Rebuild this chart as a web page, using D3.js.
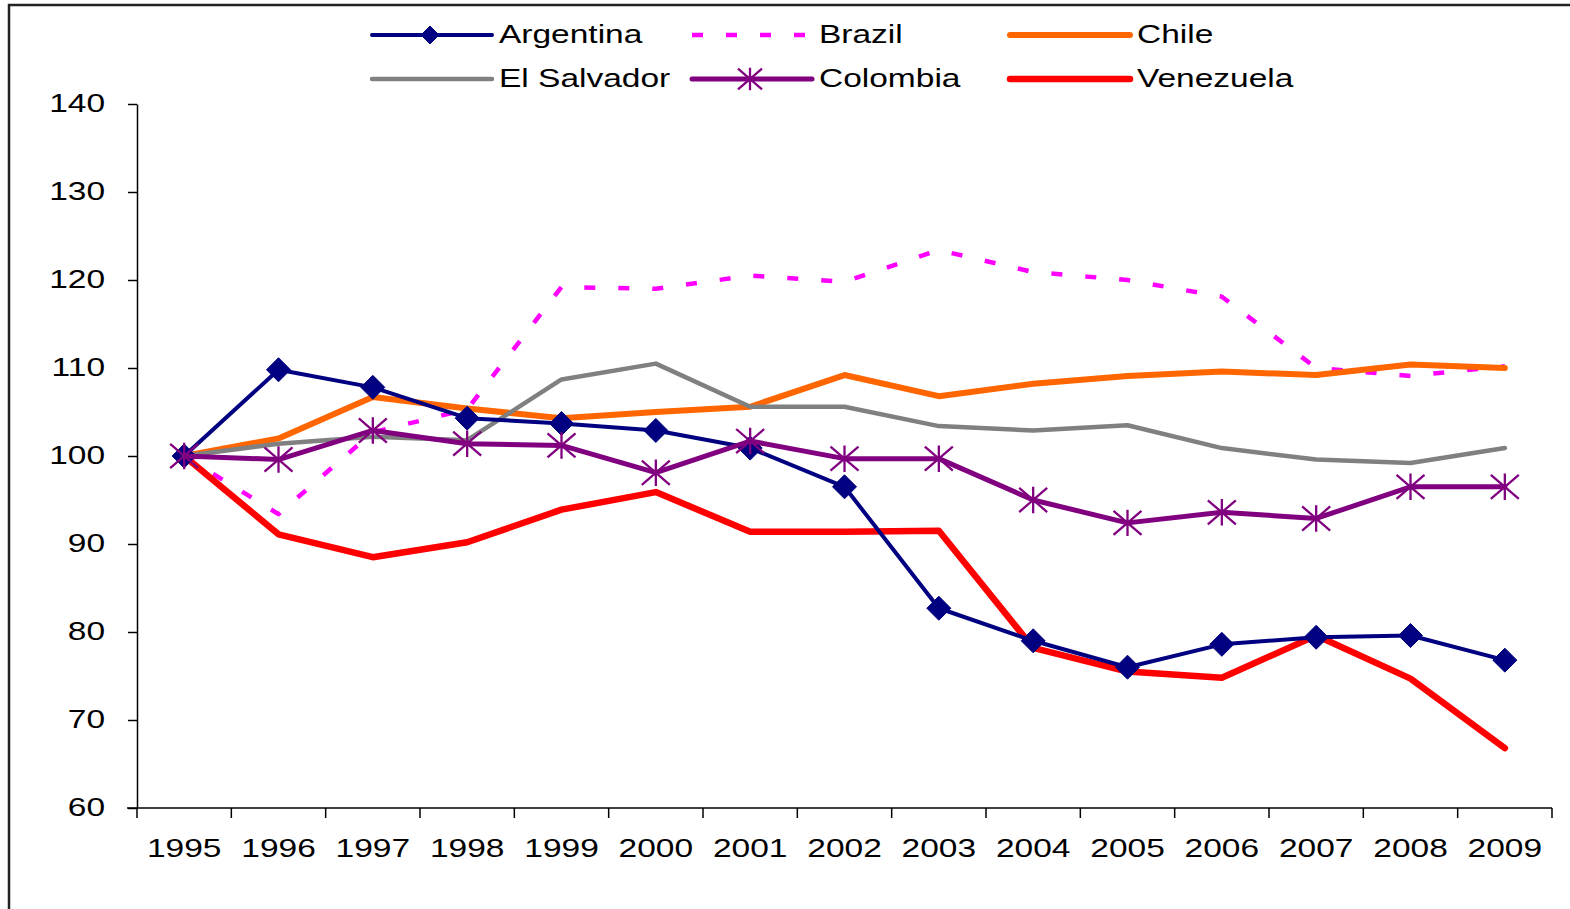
<!DOCTYPE html>
<html>
<head>
<meta charset="utf-8">
<script src="https://cdn.jsdelivr.net/npm/d3@7"></script>
<style>
html,body{margin:0;padding:0;background:#fff;}
svg{display:block;}
text{font-family:"Liberation Sans",Arial,sans-serif;fill:#000;}
</style>
</head>
<body>
<svg id="chart" width="1570" height="909"></svg>
<script>
const years = ["1995","1996","1997","1998","1999","2000","2001","2002","2003","2004","2005","2006","2007","2008","2009"];
const yTicks = [60,70,80,90,100,110,120,130,140];

const argentina  = [100,109.8,107.8,104.3,103.7,102.9,100.9,96.5,82.7,79.0,76.0,78.6,79.4,79.6,76.8];
const brazil     = [100,93.4,102.7,105.3,119.2,119.0,120.5,119.8,123.4,120.9,120.0,118.1,110.0,109.1,110.2];
const chile      = [100,102.0,106.7,105.4,104.3,105.0,105.6,109.2,106.8,108.2,109.1,109.6,109.2,110.4,110.0];
const elSalvador = [100,101.4,102.2,101.8,108.7,110.5,105.6,105.6,103.4,102.9,103.5,100.9,99.6,99.2,100.9];
const colombia   = [100,99.6,102.9,101.4,101.2,98.1,101.7,99.7,99.7,95.0,92.4,93.6,92.9,96.5,96.5];
const venezuela  = [100,91.1,88.5,90.2,93.9,95.9,91.4,91.4,91.5,78.2,75.5,74.8,79.6,74.7,66.8];

const seriesNames = ["Argentina","Brazil","Chile","El Salvador","Colombia","Venezuela"];

const svg = d3.select("#chart");
const SX = 1.34; // horizontal stretch of text as in the reference
const FS = 25;

// frame
svg.append("rect").attr("x",9).attr("y",5).attr("width",1600).attr("height",950)
  .attr("fill","none").attr("stroke","#222").attr("stroke-width",2.5);

const x = d3.scaleBand().domain(years).range([137,1552]).padding(0);
const y = d3.scaleLinear().domain([60,140]).range([808,104]);
const cx = d => x(d) + x.bandwidth()/2;

// y axis
const gy = svg.append("g").attr("transform","translate(137,0)")
  .call(d3.axisLeft(y).tickValues(yTicks).tickSize(9).tickSizeOuter(0).tickFormat(d3.format("d")));
gy.select(".domain").attr("stroke","#000").attr("stroke-width",1.5);
gy.selectAll(".tick line").attr("stroke","#000").attr("stroke-width",1.5);
gy.selectAll(".tick text").attr("font-size",FS).attr("font-family",'"Liberation Sans",Arial,sans-serif')
  .attr("x",-32/SX).attr("dy","0.3em").attr("fill","#000")
  .attr("transform",`scale(${SX},1)`);

// x axis
const gx = svg.append("g").attr("transform","translate(0,808)")
  .call(d3.axisBottom(x).tickSize(0).tickSizeOuter(0));
gx.select(".domain").remove();
gx.selectAll(".tick text").attr("font-size",FS).attr("font-family",'"Liberation Sans",Arial,sans-serif')
  .attr("y",49).attr("dy",0).attr("fill","#000")
  .attr("transform",`scale(${SX},1)`);
svg.append("line").attr("x1",127).attr("x2",x.range()[1]).attr("y1",808).attr("y2",808)
  .attr("stroke","#000").attr("stroke-width",1.5);
const bounds = years.map(d => x(d)).concat([x.range()[1]]);
svg.append("g").selectAll("line").data(bounds).join("line")
  .attr("x1",d=>d).attr("x2",d=>d).attr("y1",808).attr("y2",818)
  .attr("stroke","#000").attr("stroke-width",1.5);

const styles = {
  "Argentina":  {values:argentina,  color:"#000080", w:4, dash:null, marker:"diamond"},
  "Brazil":     {values:brazil,     color:"#FF00FF", w:4.5, dash:"11,23", marker:null},
  "Chile":      {values:chile,      color:"#FF6600", w:6, dash:null, marker:null},
  "El Salvador":{values:elSalvador, color:"#808080", w:4.5, dash:null, marker:null},
  "Colombia":   {values:colombia,   color:"#800080", w:5, dash:null, marker:"star"},
  "Venezuela":  {values:venezuela,  color:"#FF0000", w:6.5, dash:null, marker:null}
};

const line = d3.line().x((d,i)=>cx(years[i])).y(d=>y(d));
const drawOrder = ["Brazil","Chile","El Salvador","Venezuela","Argentina","Colombia"];
const plot = svg.append("g");

function drawMarker(g, type, px, py, size, color){
  if(type==="diamond"){
    const s = size/2;
    g.append("path").attr("d",`M${px},${py-s}L${px+s},${py}L${px},${py+s}L${px-s},${py}Z`)
      .attr("fill",color).attr("stroke",color).attr("stroke-width",1);
  } else if(type==="star"){
    const w = size/2, h = size*0.43;
    g.append("path").attr("d",`M${px},${py-h*1.1}L${px},${py+h*1.1}M${px-w},${py-h}L${px+w},${py+h}M${px-w},${py+h}L${px+w},${py-h}`)
      .attr("fill","none").attr("stroke",color).attr("stroke-width",2.3);
  }
}

drawOrder.forEach(name=>{
  const s = styles[name];
  const g = plot.append("g");
  g.append("path").datum(s.values).attr("d",line)
    .attr("fill","none").attr("stroke",s.color).attr("stroke-width",s.w)
    .attr("stroke-linejoin","round").attr("stroke-linecap", s.dash ? "butt" : "round")
    .attr("stroke-dasharray",s.dash);
  if(s.marker){
    s.values.forEach((v,i)=>drawMarker(g,s.marker,cx(years[i]),y(v),s.marker==="diamond"?24:28,s.color));
  }
});

// legend
const legendCols = [372,692,1010];
const legendRows = [35,79];
const leg = svg.append("g");
seriesNames.forEach((name,i)=>{
  const s = styles[name];
  const lx = legendCols[i%3], ly = legendRows[Math.floor(i/3)];
  const g = leg.append("g");
  g.append("line").attr("x1",lx).attr("x2",lx+120).attr("y1",ly).attr("y2",ly)
    .attr("stroke",s.color).attr("stroke-width",s.w)
    .attr("stroke-linecap", s.dash ? "butt" : "round")
    .attr("stroke-dasharray",s.dash);
  if(s.marker) drawMarker(g,s.marker,lx+58,ly,s.marker==="diamond"?18:24,s.color);
  g.append("text").attr("x",(lx+127)/SX).attr("y",ly+8).attr("font-size",FS)
    .attr("transform",`scale(${SX},1)`).text(name);
});
</script>
</body>
</html>
